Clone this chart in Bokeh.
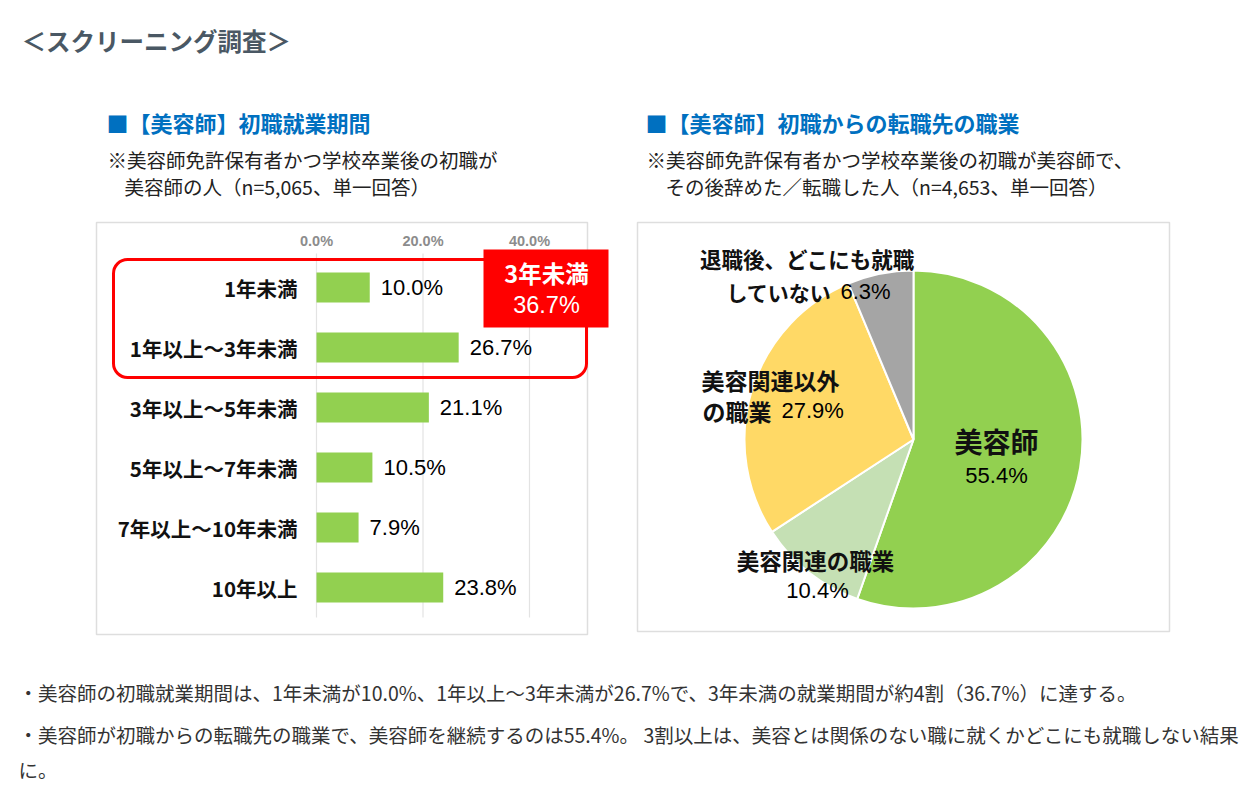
import math
from bokeh.plotting import figure
from bokeh.models import Range1d, BoxAnnotation, Label, ColumnDataSource
from bokeh.core.properties import value
from bokeh.embed import file_html
from bokeh.resources import INLINE

# ---------------- data ----------------
categories = ["1年未満", "1年以上～3年未満", "3年以上～5年未満",
              "5年以上～7年未満", "7年以上～10年未満", "10年以上"]
shares = [10.0, 26.7, 21.1, 10.5, 7.9, 23.8]
tick_values = [0, 20, 40]
tick_labels = ["0.0%", "20.0%", "40.0%"]
callout_title = "3年未満"
callout_value = 36.7

pie_labels = ["美容師", "美容関連の職業", "美容関連以外の職業", "退職後、どこにも就職していない"]
pie_values = [55.4, 10.4, 27.9, 6.3]
pie_colors = ["#92d050", "#c5e0b4", "#ffd966", "#a5a5a5"]

page_title = "＜スクリーニング調査＞"
left_title = "■【美容師】初職就業期間"
left_note = ["※美容師免許保有者かつ学校卒業後の初職が", "美容師の人（n=5,065、単一回答）"]
right_title = "■【美容師】初職からの転職先の職業"
right_note = ["※美容師免許保有者かつ学校卒業後の初職が美容師で、", "その後辞めた／転職した人（n=4,653、単一回答）"]
footer = ["・美容師の初職就業期間は、1年未満が10.0%、1年以上～3年未満が26.7%で、3年未満の就業期間が約4割（36.7%）に達する。",
          "・美容師が初職からの転職先の職業で、美容師を継続するのは55.4%。 3割以上は、美容とは関係のない職に就くかどこにも就職しない結果",
          "に。"]

# ---------------- layout ----------------
W, H = 1250, 785
PAGE_H = 789
def Y(yref):
    return PAGE_H - yref

JP = value("Noto Sans CJK JP")
LAT = value("Liberation Sans")

p = figure(width=W, height=H, output_backend="svg", toolbar_location=None,
           x_range=Range1d(0, W), y_range=Range1d(PAGE_H - H, PAGE_H),
           x_axis_location=None, y_axis_location=None, min_border=0)
p.grid.visible = False
p.outline_line_color = None
p.background_fill_color = "white"
p.border_fill_color = "white"

# percent scale for the bar chart: 0% at x=316, 40% at x=529
X0, X40 = 316, 529
k = (X40 - X0) / 40.0
p.extra_x_ranges = {"pct": Range1d(start=(0 - X0) / k, end=(W - X0) / k)}
# category index scale: first bar at y=287, 60px apart
ROW0, STEP = 287, 60
p.extra_y_ranges = {"idx": Range1d(start=(Y(ROW0) - (PAGE_H - H)) / STEP, end=(Y(ROW0) - PAGE_H) / STEP)}

# ---------------- headers ----------------
p.text(x=[21], y=[Y(40)], text=[page_title], text_font=JP, text_font_style="bold",
       text_font_size="24.5px", text_color="#4a5864", text_baseline="middle")
p.text(x=[106, 645], y=[Y(121), Y(121)], text=[left_title, right_title], text_font=JP,
       text_font_style="bold", text_font_size="22px", text_color="#0070c0", text_baseline="middle")
p.text(x=[107, 124, 646, 665], y=[Y(159), Y(186), Y(159), Y(186)],
       text=[left_note[0], left_note[1], right_note[0], right_note[1]], text_font=JP,
       text_font_size="19.5px", text_color="#222222", text_baseline="middle")

# ---------------- panel boxes ----------------
p.quad(left=[96, 637], right=[587, 1169], top=[Y(222), Y(222)], bottom=[Y(634), Y(631)],
       fill_color=None, line_color="#dedede", line_width=1.5)

# ---------------- bar chart ----------------
idx = list(range(len(categories)))
p.segment(x0=tick_values, x1=tick_values, y0=[Y(253)] * len(tick_values), y1=[Y(617)] * len(tick_values),
          x_range_name="pct", line_color="#e3e3e3", line_width=1.2)
p.text(x=tick_values, y=[Y(240)] * len(tick_values), text=tick_labels, x_range_name="pct",
       text_font=LAT, text_font_style="bold", text_font_size="14.5px", text_color="#8c8c8c",
       text_align="center", text_baseline="middle")
src = ColumnDataSource(dict(y=idx, v=shares, cat=categories, lab=[f"{v:.1f}%" for v in shares]))
p.hbar(y="y", left=0, right="v", height=0.5, source=src, x_range_name="pct", y_range_name="idx",
       fill_color="#92d050", line_color=None)
p.text(x="v", y="y", text="lab", source=src, x_range_name="pct", y_range_name="idx",
       x_offset=11, text_font=LAT, text_font_size="22px", text_color="#000000", text_baseline="middle")
p.text(x=0, y="y", text="cat", source=src, x_range_name="pct", y_range_name="idx",
       x_offset=-19, text_font=JP, text_font_style="bold", text_font_size="20.5px", text_color="#111111",
       text_align="right", text_baseline="middle")

p.add_layout(BoxAnnotation(left=113, right=586, top=Y(259), bottom=Y(377), fill_alpha=0,
                           line_color="#ff0000", line_alpha=1, line_width=3, border_radius=14))
p.add_layout(BoxAnnotation(left=483, right=608, top=Y(249), bottom=Y(327), fill_color="#ff0000",
                           fill_alpha=1, line_color=None, line_alpha=0))
p.add_layout(Label(x=546, y=Y(272), text=callout_title, text_font="Noto Sans CJK JP", text_font_style="bold",
                   text_font_size="23.5px", text_color="white", text_align="center", text_baseline="middle"))
p.add_layout(Label(x=546, y=Y(304), text=f"{callout_value:.1f}%", text_font="Liberation Sans",
                   text_font_size="23.5px", text_color="white", text_align="center", text_baseline="middle"))

# ---------------- pie ----------------
cum = [0.0]
for v in pie_values:
    cum.append(cum[-1] + v)
total = cum[-1]
starts = [math.pi / 2 - 2 * math.pi * c / total for c in cum[:-1]]
ends = [math.pi / 2 - 2 * math.pi * c / total for c in cum[1:]]
p.wedge(x=913, y=Y(439), radius=169, radius_units="screen", start_angle=starts, end_angle=ends,
        direction="clock", fill_color=pie_colors, line_color="white", line_width=2)

pv = [f"{v:.1f}%" for v in pie_values]
# 美容師
p.text(x=[996], y=[Y(440)], text=[pie_labels[0]], text_font=JP, text_font_style="bold",
       text_font_size="28px", text_color="#111111", text_align="center", text_baseline="middle")
p.text(x=[996], y=[Y(475)], text=[pv[0]], text_font=LAT, text_font_size="22px",
       text_color="#000000", text_align="center", text_baseline="middle")
# 美容関連の職業
p.text(x=[815], y=[Y(559)], text=[pie_labels[1]], text_font=JP, text_font_style="bold",
       text_font_size="22.5px", text_color="#111111", text_align="center", text_baseline="middle")
p.text(x=[817], y=[Y(590)], text=[pv[1]], text_font=LAT, text_font_size="22px",
       text_color="#000000", text_align="center", text_baseline="middle")
# 美容関連以外の職業
p.text(x=[701, 702], y=[Y(379), Y(410)], text=[pie_labels[2][:6], pie_labels[2][6:]], text_font=JP,
       text_font_style="bold", text_font_size="23px", text_color="#111111", text_baseline="middle")
p.text(x=[781], y=[Y(410)], text=[pv[2]], text_font=LAT, text_font_size="22px",
       text_color="#000000", text_baseline="middle")
# 退職後、どこにも就職していない
p.text(x=[807], y=[Y(258)], text=[pie_labels[3][:10]], text_font=JP, text_font_style="bold",
       text_font_size="21.5px", text_color="#111111", text_align="center", text_baseline="middle")
p.text(x=[831], y=[Y(291)], text=[pie_labels[3][10:]], text_font=JP, text_font_style="bold",
       text_font_size="21px", text_color="#111111", text_align="right", text_baseline="middle")
p.text(x=[840], y=[Y(291)], text=[pv[3]], text_font=LAT, text_font_size="22px",
       text_color="#000000", text_baseline="middle")

# ---------------- footer ----------------
p.text(x=[18, 18, 18], y=[Y(692), Y(734), Y(769)], text=footer, text_font=JP,
       text_font_size="19.5px", text_color="#333333", text_baseline="middle")

open("out.html", "w").write(file_html(p, INLINE))
